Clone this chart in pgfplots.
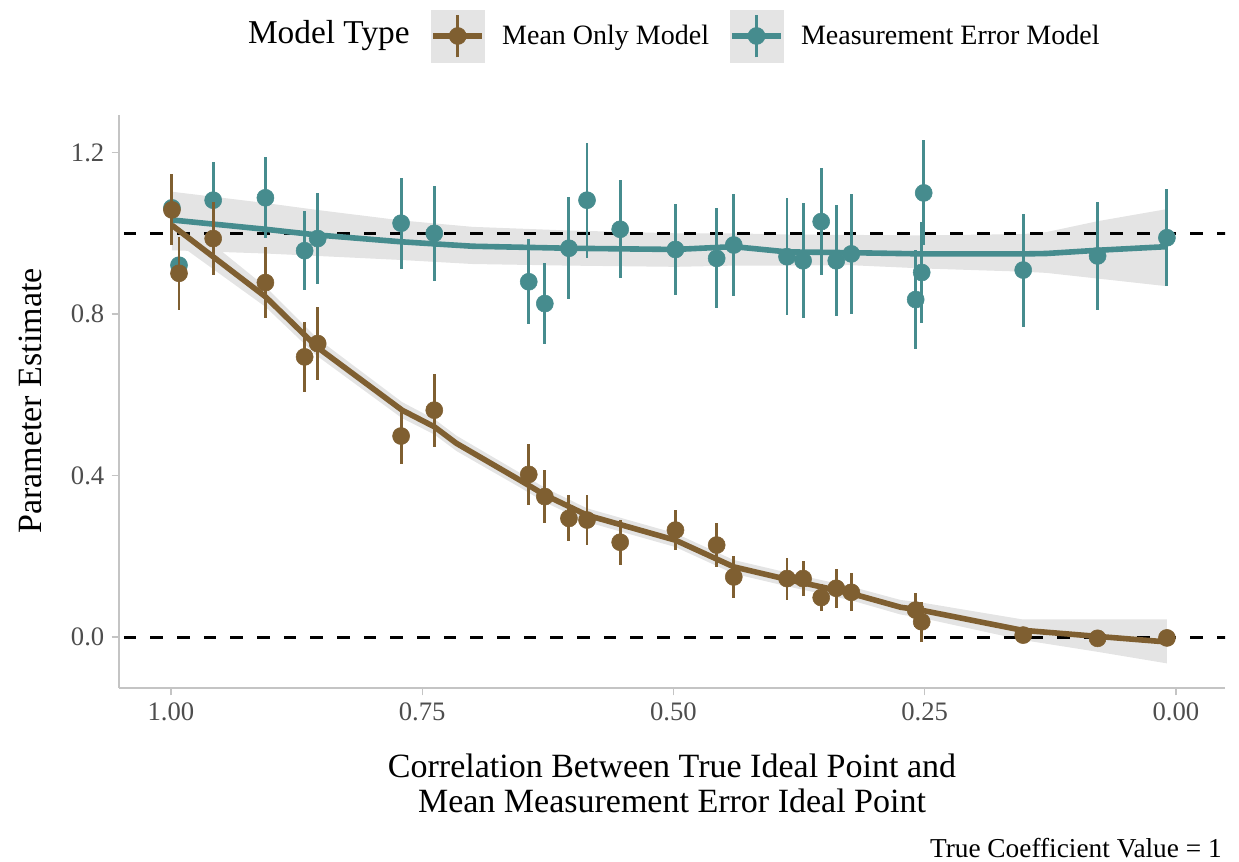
\documentclass[border=0pt]{standalone}
\usepackage{fontspec}
\setmainfont{Liberation Serif}
\usepackage{pgfplots}
\usepackage{pgfplotstable}
\pgfplotsset{compat=1.18}
\usepgfplotslibrary{fillbetween}
\definecolor{mbrown}{HTML}{7F5F31}
\definecolor{mteal}{HTML}{468C8E}
\definecolor{ribbon}{HTML}{E4E4E4}
\definecolor{tickgray}{HTML}{4D4D4D}
\definecolor{axgray}{HTML}{C4C4C4}

\pgfplotstableread{
x y e
0.999 1.063 0.085
0.992 0.921 0.070
0.958 1.082 0.095
0.906 1.088 0.100
0.867 0.957 0.098
0.854 0.987 0.113
0.771 1.025 0.113
0.738 1.000 0.118
0.644 0.880 0.105
0.628 0.826 0.100
0.604 0.963 0.126
0.586 1.082 0.142
0.553 1.010 0.121
0.498 0.960 0.112
0.457 0.938 0.124
0.440 0.971 0.126
0.387 0.942 0.145
0.371 0.932 0.142
0.353 1.029 0.133
0.338 0.932 0.137
0.323 0.949 0.149
0.259 0.836 0.123
0.253 0.903 0.124
0.251 1.100 0.130
0.152 0.909 0.140
0.078 0.944 0.134
0.009 0.989 0.120
}\tealpts

\pgfplotstableread{
x y e
0.999 1.058 0.088
0.992 0.901 0.090
0.958 0.987 0.090
0.906 0.878 0.088
0.867 0.694 0.086
0.854 0.727 0.090
0.771 0.498 0.069
0.738 0.562 0.090
0.644 0.403 0.075
0.628 0.348 0.065
0.604 0.294 0.057
0.586 0.290 0.063
0.553 0.235 0.056
0.498 0.265 0.050
0.457 0.228 0.055
0.440 0.149 0.053
0.387 0.145 0.052
0.371 0.145 0.043
0.353 0.098 0.033
0.338 0.121 0.048
0.323 0.111 0.047
0.259 0.067 0.042
0.253 0.038 0.050
0.152 0.005 0.012
0.078 -0.003 0.008
0.009 -0.002 0.008
}\brownpts

\pgfplotstableread{
x y lo hi
0.999 1.033 0.958 1.103
0.906 1.010 0.950 1.075
0.855 0.996 0.944 1.058
0.771 0.979 0.934 1.032
0.700 0.968 0.924 1.016
0.604 0.963 0.920 1.007
0.498 0.960 0.917 1.000
0.440 0.967 0.920 1.000
0.387 0.954 0.920 0.997
0.323 0.952 0.921 0.996
0.252 0.949 0.913 0.995
0.152 0.949 0.905 0.998
0.129 0.950 0.902 1.003
0.078 0.958 0.888 1.030
0.009 0.967 0.869 1.060
}\tealsmooth

\pgfplotstableread{
x y lo hi
0.999 1.020 0.985 1.055
0.906 0.843 0.818 0.868
0.855 0.719 0.697 0.741
0.770 0.562 0.542 0.582
0.738 0.521 0.502 0.540
0.716 0.480 0.461 0.499
0.653 0.389 0.371 0.407
0.628 0.352 0.334 0.370
0.586 0.302 0.285 0.319
0.498 0.240 0.223 0.257
0.440 0.174 0.157 0.191
0.387 0.143 0.126 0.160
0.323 0.108 0.091 0.125
0.274 0.074 0.056 0.092
0.254 0.067 0.048 0.086
0.153 0.017 -0.007 0.044
0.079 0.002 -0.036 0.044
0.009 -0.012 -0.065 0.044
}\brownsmooth

\begin{document}
\begin{tikzpicture}
\begin{axis}[
  at={(0pt,0pt)}, anchor=south west,
  scale only axis,
  width=829.5pt, height=429.75pt,
  x dir=reverse,
  xmin=-0.0488, xmax=1.0517,
  ymin=-0.126, ymax=1.293,
  axis lines*=left,
  axis line style={-, axgray, line width=1pt},
  tick style={axgray, line width=1pt},
  tick align=outside,
  major tick length=5.5pt,
  xtick={0,0.25,0.5,0.75,1},
  xticklabels={0.00,0.25,0.50,0.75,1.00},
  ytick={0,0.4,0.8,1.2},
  yticklabels={0.0,0.4,0.8,1.2},
  ticklabel style={font=\fontsize{20pt}{22pt}\selectfont, text=tickgray},
  xticklabel style={yshift=-2pt},
  yticklabel style={xshift=-2pt},
  clip mode=individual,
  legend columns=2,
  legend style={at={(axis description cs:0.2812,1.1379)}, anchor=west,
    draw=none, fill=none, inner sep=0pt,
    font=\fontsize{21pt}{23pt}\selectfont,
    nodes={inner sep=0pt},
    /tikz/every odd column/.append style={column sep=12.75pt},
    /tikz/every even column/.append style={column sep=15pt}},
  legend cell align=left,
]
% ribbons
\addplot[name path=tu, draw=none, forget plot] table[x=x,y=hi] {\tealsmooth};
\addplot[name path=tl, draw=none, forget plot] table[x=x,y=lo] {\tealsmooth};
\addplot[ribbon, forget plot] fill between[of=tu and tl];
\addplot[name path=bu, draw=none, forget plot] table[x=x,y=hi] {\brownsmooth};
\addplot[name path=bl, draw=none, forget plot] table[x=x,y=lo] {\brownsmooth};
\addplot[ribbon, forget plot] fill between[of=bu and bl];
% reference lines
\addplot[black, line width=2.3pt, dash pattern=on 9.5pt off 10.5pt, forget plot] coordinates {(1.1,1) (-0.1,1)};
\addplot[black, line width=2.3pt, dash pattern=on 9.5pt off 10.5pt, forget plot] coordinates {(1.1,0) (-0.1,0)};
% smooth lines
\addplot[mteal, line width=4.2pt, forget plot] table[x=x,y=y] {\tealsmooth};
\addplot[mbrown, line width=4.2pt, forget plot] table[x=x,y=y] {\brownsmooth};
% points with error bars
\addplot[mteal, only marks, mark=*, mark size=6.4pt, forget plot,
  error bars/.cd, y dir=both, y explicit, error mark=none,
  error bar style={line width=2.2pt, mteal}]
  table[x=x, y=y, y error=e] {\tealpts};
\addplot[mbrown, only marks, mark=*, mark size=6.4pt, forget plot,
  error bars/.cd, y dir=both, y explicit, error mark=none,
  error bar style={line width=2.2pt, mbrown}]
  table[x=x, y=y, y error=e] {\brownpts};
% legend
\addlegendimage{legend image code/.code={
  \fill[ribbon] (0pt,-19.5pt) rectangle (40pt,19.5pt);
  \draw[mbrown, line width=4.2pt] (1.5pt,0pt) -- (38.5pt,0pt);
  \draw[mbrown, line width=2.2pt] (20pt,-16pt) -- (20pt,16pt);
  \fill[mbrown] (20pt,0pt) circle (6.4pt);
}}
\addlegendentry{Mean Only Model}
\addlegendimage{legend image code/.code={
  \fill[ribbon] (0pt,-19.5pt) rectangle (40pt,19.5pt);
  \draw[mteal, line width=4.2pt] (1.5pt,0pt) -- (38.5pt,0pt);
  \draw[mteal, line width=2.2pt] (20pt,-16pt) -- (20pt,16pt);
  \fill[mteal] (20pt,0pt) circle (6.4pt);
}}
\addlegendentry{Measurement Error Model}
% titles
\node[anchor=east, inner sep=0pt, font=\fontsize{25pt}{27pt}\selectfont] at (axis description cs:0.263,1.1379) {Model Type};
\node[rotate=90, inner sep=0pt, font=\fontsize{25.5pt}{27pt}\selectfont] at (axis description cs:-0.0805,0.501) {Parameter Estimate};
\node[align=center, inner sep=0pt, font=\fontsize{25.5pt}{26.25pt}\selectfont] at (axis description cs:0.5,-0.166) {Correlation Between True Ideal Point and\\Mean Measurement Error Ideal Point};
\node[anchor=east, inner sep=0pt, font=\fontsize{20.5pt}{22pt}\selectfont] at (axis description cs:0.9973,-0.279) {True Coefficient Value = 1};
\end{axis}
\path (-89.25pt,-129.75pt) rectangle (840pt,516pt);
\end{tikzpicture}
\end{document}
